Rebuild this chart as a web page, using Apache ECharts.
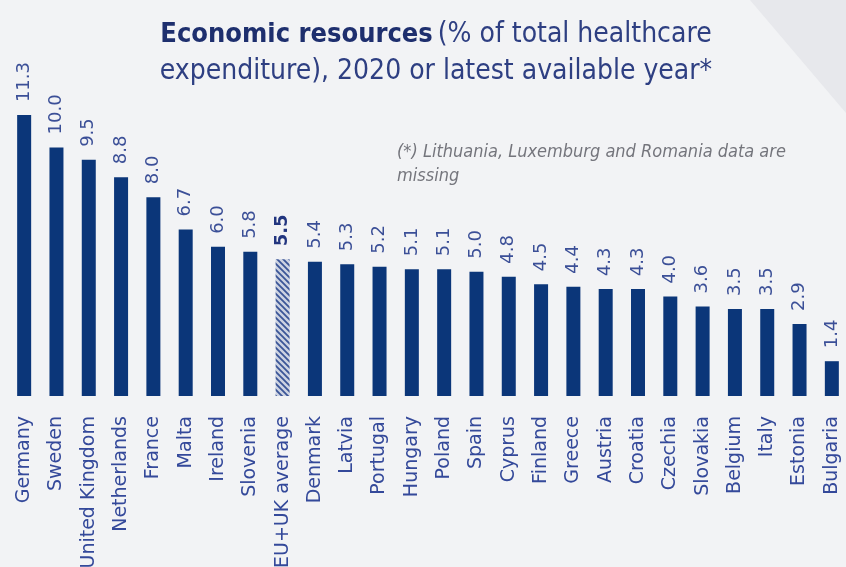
<!DOCTYPE html>
<html>
<head>
<meta charset="utf-8">
<script src="https://cdn.jsdelivr.net/npm/echarts@6/dist/echarts.min.js"></script>
<style>
  html, body { margin: 0; padding: 0; background: #f2f3f5; }
  #chart { width: 846px; height: 567px; }
</style>
</head>
<body>
<div id="chart"></div>
<script>
// Share of total healthcare expenditure, 2020 or latest available year
const countries = ['Germany', 'Sweden', 'United Kingdom', 'Netherlands', 'France', 'Malta', 'Ireland', 'Slovenia',
  'EU+UK average', 'Denmark', 'Latvia', 'Portugal', 'Hungary', 'Poland', 'Spain', 'Cyprus', 'Finland', 'Greece',
  'Austria', 'Croatia', 'Czechia', 'Slovakia', 'Belgium', 'Italy', 'Estonia', 'Bulgaria'];
const shares = [11.3, 10.0, 9.5, 8.8, 8.0, 6.7, 6.0, 5.8, 5.5, 5.4, 5.3, 5.2, 5.1, 5.1, 5.0, 4.8, 4.5, 4.4,
  4.3, 4.3, 4.0, 3.6, 3.5, 3.5, 2.9, 1.4];
const averageLabel = 'EU+UK average';

const navy = '#0b3679';
const labelBlue = '#34499a';
const narrow = '"Liberation Sans Narrow", "DejaVu Sans Condensed", sans-serif';

// diagonal hatch used for the average bar
function hatch() {
  const c = document.createElement('canvas');
  c.width = 6; c.height = 6;
  const g = c.getContext('2d');
  g.fillStyle = '#cdd3e2';
  g.fillRect(0, 0, 6, 6);
  g.strokeStyle = '#3b5597';
  g.lineWidth = 1.8;
  g.beginPath();
  g.moveTo(-1, -1); g.lineTo(7, 7);
  g.moveTo(-1, 5); g.lineTo(1, 7);
  g.moveTo(5, -1); g.lineTo(7, 1);
  g.stroke();
  return c;
}

const barData = countries.map((name, i) => {
  const isAvg = name === averageLabel;
  return {
    value: shares[i],
    itemStyle: isAvg ? { color: { image: hatch(), repeat: 'repeat' } } : { color: navy },
    label: isAvg ? { fontWeight: 'bold', color: '#22357f' } : {}
  };
});

const chart = echarts.init(document.getElementById('chart'), null, { renderer: 'canvas' });
chart.setOption({
  backgroundColor: '#f2f3f5',
  animation: false,
  graphic: [{
    type: 'polygon',
    z: -10,
    shape: { points: [[750, 0], [846, 0], [846, 113]] },
    style: { fill: '#e7e8ec' }
  }, {
    type: 'text',
    left: 397, top: 140,
    style: {
      text: '(*) Lithuania, Luxemburg and Romania data are\nmissing',
      font: 'italic 18px ' + narrow,
      fill: '#74757c',
      lineHeight: 24
    }
  }],
  title: {
    left: 431, top: 11, textAlign: 'center',
    text: '{b|Economic resources} {n|(% of total healthcare}\n{n|expenditure), 2020 or latest available year*}',
    textStyle: {
      fontWeight: 'normal',
      rich: {
        b: { fontFamily: narrow, fontWeight: 'bold', fontSize: 27, color: '#1e2f6e', lineHeight: 37 },
        n: { fontFamily: narrow, fontWeight: 'normal', fontSize: 28, color: '#2e3f82', lineHeight: 37 }
      }
    }
  },
  grid: { left: 8, width: 840, top: 48, bottom: 171, containLabel: false, outerBoundsMode: 'none' },
  xAxis: {
    type: 'category',
    data: countries,
    axisLine: { show: false },
    axisTick: { show: false },
    axisLabel: {
      interval: 0, rotate: 90, margin: 20,
      fontFamily: '"DejaVu Sans", sans-serif', fontSize: 19, color: labelBlue
    }
  },
  yAxis: { type: 'value', min: 0, max: 14, show: false },
  series: [{
    type: 'bar',
    data: barData,
    barWidth: 14,
    label: {
      show: true, position: 'top', rotate: 90, align: 'left', verticalAlign: 'middle', distance: 13,
      fontFamily: '"DejaVu Sans", sans-serif', fontSize: 18, color: '#3b4f97',
      formatter: p => p.value.toFixed(1)
    }
  }]
});
</script>
</body>
</html>
